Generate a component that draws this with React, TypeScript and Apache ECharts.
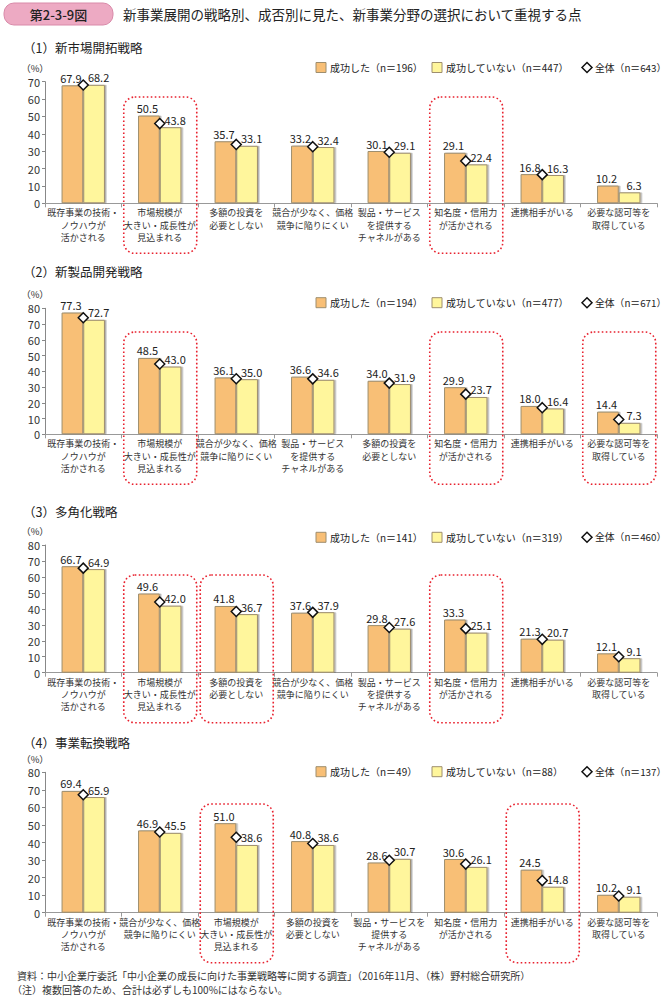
import React, { useEffect, useRef } from "react";
import * as echarts from "echarts";

const FONT = '"Noto Sans CJK JP", "Noto Sans", sans-serif';

// ---------- data ----------
const catA = "既存事業の技術・\nノウハウが\n活かされる";
const catB = "市場規模が\n大きい・成長性が\n見込まれる";
const catC = "多額の投資を\n必要としない";
const catD = "競合が少なく、価格\n競争に陥りにくい";
const catE = "製品・サービス\nを提供する\nチャネルがある";
const catE4 = "製品・サービスを\n提供する\nチャネルがある";
const catF = "知名度・信用力\nが活かされる";
const catG = "連携相手がいる";
const catH = "必要な認可等を\n取得している";

const p1Categories = [catA, catB, catC, catD, catE, catF, catG, catH];
const p1Success = [67.9, 50.5, 35.7, 33.2, 30.1, 29.1, 16.8, 10.2];
const p1NotSuccess = [68.2, 43.8, 33.1, 32.4, 29.1, 22.4, 16.3, 6.3];
const p1Total = [68.1, 45.9, 33.9, 32.6, 29.4, 24.4, 16.5, null];
const p1N = [196, 447, 643];
const p1Highlight = [1, 5];

const p2Categories = [catA, catB, catD, catE, catC, catF, catG, catH];
const p2Success = [77.3, 48.5, 36.1, 36.6, 34.0, 29.9, 18.0, 14.4];
const p2NotSuccess = [72.7, 43.0, 35.0, 34.6, 31.9, 23.7, 16.4, 7.3];
const p2Total = [74.0, 44.6, 35.3, 35.2, 32.5, 25.5, 16.9, 9.4];
const p2N = [194, 477, 671];
const p2Highlight = [1, 5, 7];

const p3Categories = [catA, catB, catC, catD, catE, catF, catG, catH];
const p3Success = [66.7, 49.6, 41.8, 37.6, 29.8, 33.3, 21.3, 12.1];
const p3NotSuccess = [64.9, 42.0, 36.7, 37.9, 27.6, 25.1, 20.7, 9.1];
const p3Total = [65.5, 44.3, 38.3, 37.8, 28.3, 27.6, 20.9, 10.0];
const p3N = [141, 319, 460];
const p3Highlight = [1, 2, 5];

const p4Categories = [catA, catD, catB, catC, catE4, catF, catG, catH];
const p4Success = [69.4, 46.9, 51.0, 40.8, 28.6, 30.6, 24.5, 10.2];
const p4NotSuccess = [65.9, 45.5, 38.6, 38.6, 30.7, 26.1, 14.8, 9.1];
const p4Total = [67.2, 46.0, 43.0, 39.4, 29.9, 27.7, 18.3, 9.5];
const p4N = [49, 88, 137];
const p4Highlight = [2, 6];

const panelTitles = ["（1）新市場開拓戦略", "（2）新製品開発戦略", "（3）多角化戦略", "（4）事業転換戦略"];
const yMax = [70, 80, 80, 80];

const titleBadge = "第2-3-9図";
const titleText = "新事業展開の戦略別、成否別に見た、新事業分野の選択において重視する点";
const footer1 = "資料：中小企業庁委託「中小企業の成長に向けた事業戦略等に関する調査」（2016年11月、（株）野村総合研究所）";
const footer2 = "（注）複数回答のため、合計は必ずしも100%にはならない。";

// ---------- layout ----------
const LAYOUT = [
  { sub: 47, pct: 67.5, legend: 67.5, top: 81.7, bottom: 203.3, boxTop: 97 },
  { sub: 271, pct: 293.5, legend: 302.7, top: 308.3, bottom: 434.3, boxTop: 332 },
  { sub: 511.5, pct: 530.5, legend: 537.3, top: 545, bottom: 672.7, boxTop: 575 },
  { sub: 742, pct: 758.5, legend: 771.7, top: 772.3, bottom: 912.7, boxTop: 804 },
];
const ORANGE = "#F8BF76";
const YELLOW = "#FFF69C";
const BORDER = "#9E8E6E";
const RED = "#E8212E";

const panels = [
  { cats: p1Categories, s: p1Success, ns: p1NotSuccess, t: p1Total, n: p1N, hl: p1Highlight },
  { cats: p2Categories, s: p2Success, ns: p2NotSuccess, t: p2Total, n: p2N, hl: p2Highlight },
  { cats: p3Categories, s: p3Success, ns: p3NotSuccess, t: p3Total, n: p3N, hl: p3Highlight },
  { cats: p4Categories, s: p4Success, ns: p4NotSuccess, t: p4Total, n: p4N, hl: p4Highlight },
];

function buildOption() {
  const grid: any[] = [];
  const xAxis: any[] = [];
  const yAxis: any[] = [];
  const series: any[] = [];
  const graphic: any[] = [];

  graphic.push({
    type: "rect",
    shape: { x: 4, y: 3, width: 109, height: 22, r: 10 },
    style: { fill: "#EDAAC3", stroke: "#D98AA9", lineWidth: 1 },
  });
  graphic.push({
    type: "text",
    x: 58.5,
    y: 14,
    style: { text: titleBadge, font: `500 13px ${FONT}`, fill: "#222", align: "center", verticalAlign: "middle" },
  });
  graphic.push({
    type: "text",
    x: 123,
    y: 14,
    style: { text: titleText, font: `13.5px ${FONT}`, fill: "#222", align: "left", verticalAlign: "middle" },
  });

  panels.forEach((p, i) => {
    const L = LAYOUT[i];
    grid.push({ left: 45, width: 612, top: L.top, height: L.bottom - L.top, containLabel: false });
    xAxis.push({
      type: "category",
      gridIndex: i,
      data: p.cats,
      axisLine: { lineStyle: { color: "#999", width: 1 } },
      axisTick: { show: true, length: 4, lineStyle: { color: "#999" } },
      axisLabel: {
        interval: 0,
        fontSize: 9,
        lineHeight: 12.3,
        color: "#333",
        margin: 3.5,
        fontFamily: FONT,
      },
    });
    yAxis.push({
      type: "value",
      gridIndex: i,
      min: 0,
      max: yMax[i],
      interval: 10,
      splitLine: { show: false },
      axisLine: { show: true, lineStyle: { color: "#888" } },
      axisTick: { show: true, length: 3, lineStyle: { color: "#888" } },
      axisLabel: { fontSize: 11, color: "#333", margin: 5, fontFamily: FONT },
    });
    const nameS = `成功した（n＝${p.n[0]}）`;
    const nameNS = `成功していない（n＝${p.n[1]}）`;
    const nameT = `全体（n＝${p.n[2]}）`;
    const barStyle = (c: string) => ({
      color: c,
      borderColor: BORDER,
      borderWidth: 1,
      shadowColor: "rgba(0,0,0,0.3)",
      shadowOffsetX: 1.5,
      shadowOffsetY: 0,
      shadowBlur: 0,
    });
    const lbl = (dx: number) => ({
      show: true,
      position: "top",
      distance: 2,
      offset: [dx, 0],
      fontSize: 11,
      color: "#222",
      fontFamily: FONT,
      formatter: (d: any) => d.value.toFixed(1),
    });
    series.push({
      name: nameS,
      type: "bar",
      xAxisIndex: i,
      yAxisIndex: i,
      data: p.s,
      barWidth: 21.7,
      barGap: "0%",
      itemStyle: barStyle(ORANGE),
      label: lbl(-1.5),
      z: 2,
    });
    series.push({
      name: nameNS,
      type: "bar",
      xAxisIndex: i,
      yAxisIndex: i,
      data: p.ns,
      barWidth: 21.7,
      barGap: "0%",
      itemStyle: barStyle(YELLOW),
      label: lbl(4.5),
      z: 2,
    });
    series.push({
      name: nameT,
      type: "scatter",
      xAxisIndex: i,
      yAxisIndex: i,
      data: p.t.map((v) => (v == null ? "-" : v)),
      symbol: "diamond",
      symbolSize: 10,
      itemStyle: { color: "#fff", borderColor: "#111", borderWidth: 1.5, opacity: 1 },
      z: 5,
    });

    graphic.push({
      type: "text",
      x: 23,
      y: L.sub,
      style: { text: panelTitles[i], font: `12.5px ${FONT}`, fill: "#222", align: "left", verticalAlign: "middle" },
    });
    graphic.push({
      type: "text",
      x: 35,
      y: L.pct,
      style: { text: "（%）", font: `9.5px ${FONT}`, fill: "#333", align: "center", verticalAlign: "middle" },
    });
    // legend
    const ly = L.legend;
    graphic.push({
      type: "rect",
      shape: { x: 316, y: ly - 5, width: 10, height: 10 },
      style: { fill: ORANGE, stroke: BORDER, lineWidth: 1 },
    });
    graphic.push({
      type: "text",
      x: 330,
      y: ly,
      style: { text: nameS, font: `10px ${FONT}`, fill: "#222", align: "left", verticalAlign: "middle" },
    });
    graphic.push({
      type: "rect",
      shape: { x: 432, y: ly - 5, width: 10, height: 10 },
      style: { fill: YELLOW, stroke: BORDER, lineWidth: 1 },
    });
    graphic.push({
      type: "text",
      x: 446,
      y: ly,
      style: { text: nameNS, font: `10px ${FONT}`, fill: "#222", align: "left", verticalAlign: "middle" },
    });
    graphic.push({
      type: "polygon",
      shape: { points: [[587, ly - 5], [592, ly], [587, ly + 5], [582, ly]] },
      style: { fill: "#fff", stroke: "#111", lineWidth: 1.5 },
    });
    graphic.push({
      type: "text",
      x: 595,
      y: ly,
      style: { text: nameT, font: `9.8px ${FONT}`, fill: "#222", align: "left", verticalAlign: "middle" },
    });
  });

  graphic.push({
    type: "text",
    x: 17,
    y: 975.5,
    style: { text: footer1, font: `10px ${FONT}`, fill: "#333", align: "left", verticalAlign: "middle" },
  });
  graphic.push({
    type: "text",
    x: 12,
    y: 989.5,
    style: { text: footer2, font: `10px ${FONT}`, fill: "#333", align: "left", verticalAlign: "middle" },
  });

  return {
    animation: false,
    backgroundColor: "#fff",
    textStyle: { fontFamily: FONT },
    grid,
    xAxis,
    yAxis,
    series,
    graphic,
  };
}

export default function App() {
  const ref = useRef<HTMLDivElement>(null);
  useEffect(() => {
    if (!ref.current) return;
    const chart = echarts.init(ref.current, undefined, { renderer: "svg" });
    const option: any = buildOption();
    chart.setOption(option);
    // highlight boxes placed via the axes' own scales
    const boxes: any[] = [];
    panels.forEach((p, i) => {
      const L = LAYOUT[i];
      const y0 = chart.convertToPixel({ yAxisIndex: i } as any, 0) as number;
      p.hl.forEach((ci) => {
        const cx = chart.convertToPixel({ xAxisIndex: i } as any, ci) as number;
        boxes.push({
          type: "rect",
          shape: { x: cx - 36, y: L.boxTop, width: 73, height: y0 + 50 - L.boxTop, r: 11 },
          style: { fill: "none", stroke: RED, lineWidth: 1.6, lineDash: [1.6, 2.4] },
          z: 10,
        });
      });
    });
    chart.setOption({ graphic: [...option.graphic, ...boxes] });
    return () => chart.dispose();
  }, []);
  return (
    <div
      ref={ref}
      style={{ position: "absolute", left: 0, top: 0, width: 667, height: 996, background: "#fff" }}
    />
  );
}
